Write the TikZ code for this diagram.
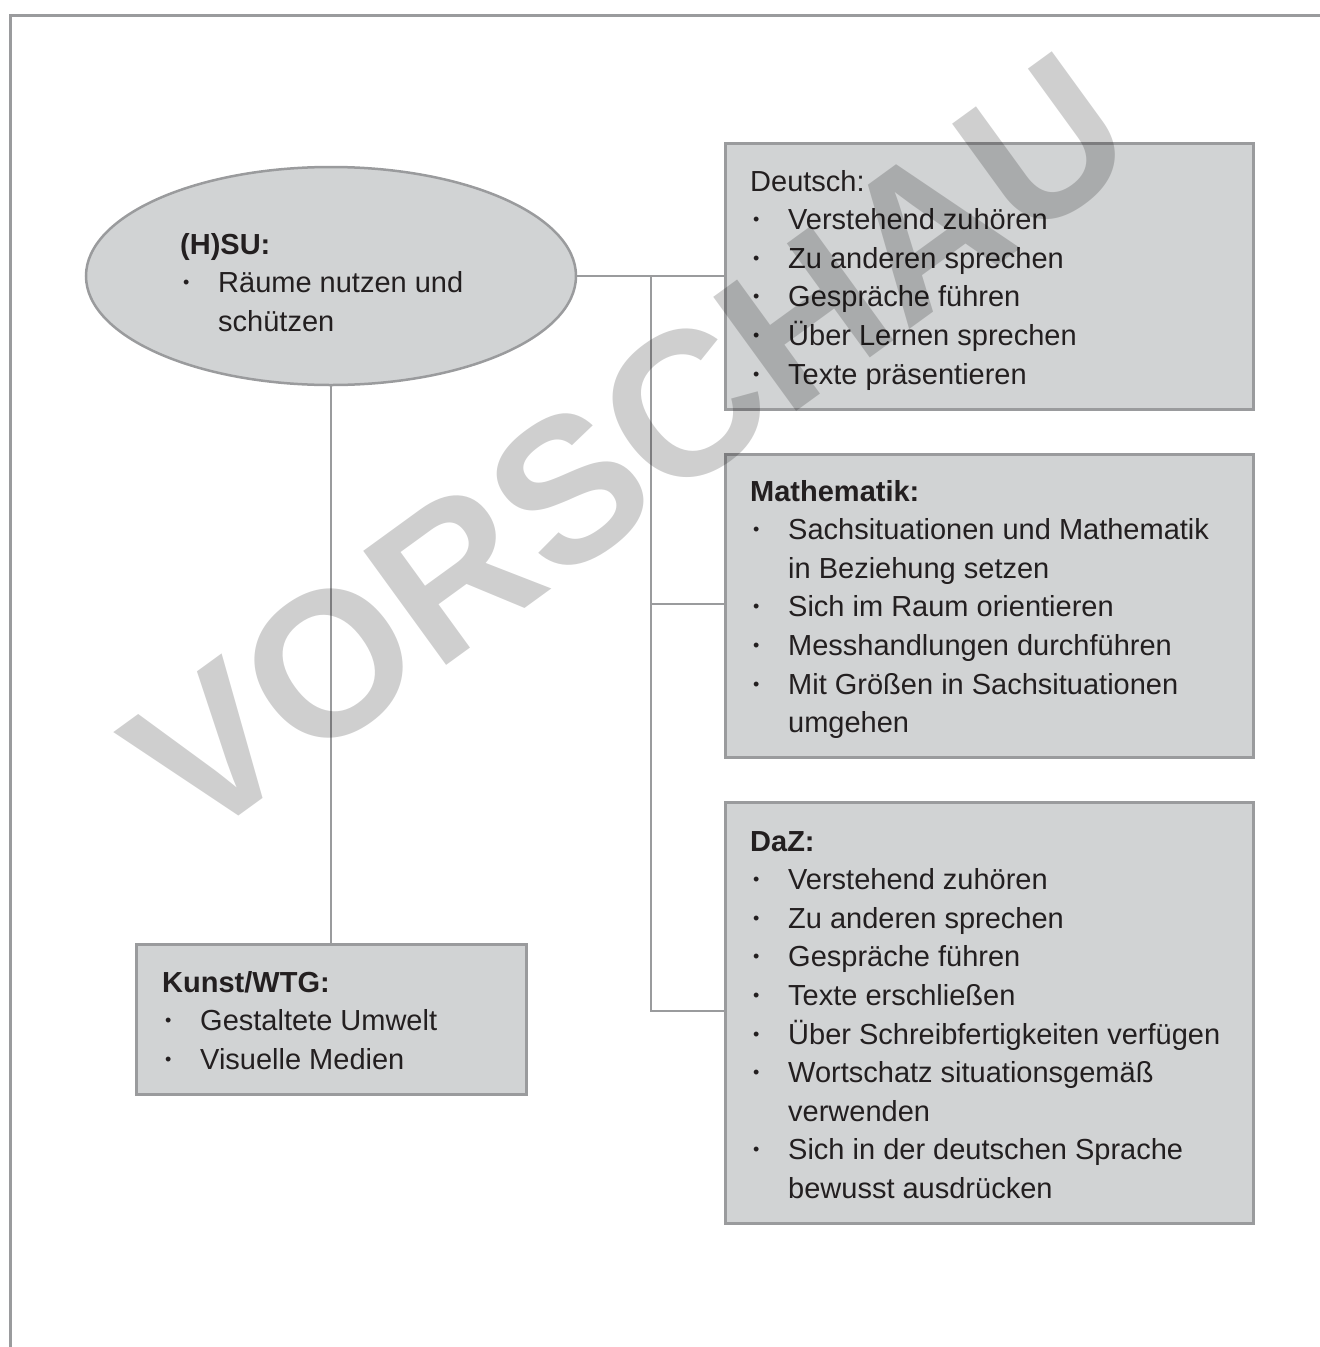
\documentclass[tikz,border=0pt]{standalone}
\usepackage{fontspec}
\setmainfont{Liberation Sans}
\usetikzlibrary{shapes.geometric}
\definecolor{boxfill}{HTML}{D1D3D4}
\definecolor{boxline}{HTML}{9A9B9D}
\definecolor{txt}{HTML}{231F20}
\newcommand{\bul}{\makebox[38pt][l]{\hspace{3pt}\raisebox{4pt}{\fontsize{18}{18}\selectfont •}}}
\begin{document}
\begin{tikzpicture}[x=1pt,y=-1pt,
  box/.style={draw=boxline, line width=2.5pt, fill=boxfill, anchor=north west, inner sep=0pt},
  conn/.style={draw=boxline, line width=2pt},
  lbl/.style={anchor=base west, inner sep=0pt, font=\fontsize{29}{38.6}\selectfont, text=txt},
]
\useasboundingbox (0,0) rectangle (1320,1347);
% frame
\draw[boxline, line width=3pt] (10,1347) -- (10,15) -- (1320,15);

% nodes
\node[draw=boxline, line width=2.5pt, fill=boxfill, ellipse, minimum width=490pt, minimum height=218pt, inner sep=0pt] (hsu) at (331,276) {};
\coordinate (jt) at (651,276);
\coordinate (jm) at (651,604);
\coordinate (jb) at (651,1011);
\node[box, minimum width=528pt, minimum height=266pt] (deu) at (724,142) {};
\node[box, minimum width=528pt, minimum height=303pt] (mat) at (724,453) {};
\node[box, minimum width=528pt, minimum height=421pt] (daz) at (724,801) {};
\node[box, minimum width=390pt, minimum height=150pt] (kun) at (135,943) {};

% connectors
\draw[conn] (hsu.east) -- (hsu.east -| deu.west);
\draw[conn] (jt) -- (jb) -- (jb -| daz.west);
\draw[conn] (jm) -- (jm -| mat.west);
\draw[conn] (hsu.south) -- (hsu.south |- kun.north);

% texts
\node[lbl] (hsut) at (180,254) {\begin{tabular}[t]{@{}l@{}l@{}}
\multicolumn{2}{@{}l@{}}{\bfseries (H)SU:}\\
\bul & Räume nutzen und\\
 & schützen
\end{tabular}};

\node[lbl] (deut) at (750,191) {\begin{tabular}[t]{@{}l@{}l@{}}
\multicolumn{2}{@{}l@{}}{Deutsch:}\\
\bul & Verstehend zuhören\\
\bul & Zu anderen sprechen\\
\bul & Gespräche führen\\
\bul & Über Lernen sprechen\\
\bul & Texte präsentieren
\end{tabular}};

\node[lbl] (matt) at (750,501) {\begin{tabular}[t]{@{}l@{}l@{}}
\multicolumn{2}{@{}l@{}}{\bfseries Mathematik:}\\
\bul & Sachsituationen und Mathematik\\
 & in Beziehung setzen\\
\bul & Sich im Raum orientieren\\
\bul & Messhandlungen durchführen\\
\bul & Mit Größen in Sachsituationen\\
 & umgehen
\end{tabular}};

\node[lbl] (dazt) at (750,851) {\begin{tabular}[t]{@{}l@{}l@{}}
\multicolumn{2}{@{}l@{}}{\bfseries DaZ:}\\
\bul & Verstehend zuhören\\
\bul & Zu anderen sprechen\\
\bul & Gespräche führen\\
\bul & Texte erschließen\\
\bul & Über Schreibfertigkeiten verfügen\\
\bul & Wortschatz situationsgemäß\\
 & verwenden\\
\bul & Sich in der deutschen Sprache\\
 & bewusst ausdrücken
\end{tabular}};

\node[lbl] (kunt) at (162,992) {\begin{tabular}[t]{@{}l@{}l@{}}
\multicolumn{2}{@{}l@{}}{\bfseries Kunst/WTG:}\\
\bul & Gestaltete Umwelt\\
\bul & Visuelle Medien
\end{tabular}};

% watermark
\node[rotate=36, font=\fontsize{205}{205}\selectfont\bfseries, text=black, text opacity=0.19, inner sep=0pt] (wm) at (629,446) {VORSCHAU};
\end{tikzpicture}
\end{document}
